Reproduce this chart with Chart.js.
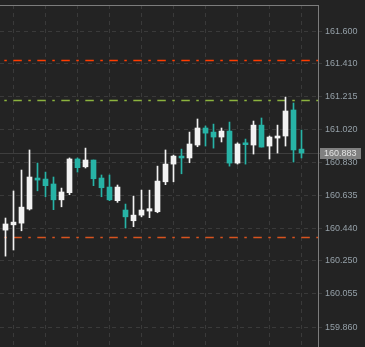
<!DOCTYPE html>
<html><head><meta charset="utf-8">
<script src="https://cdn.jsdelivr.net/npm/chart.js@4"></script>
<style>html,body{margin:0;padding:0;background:#232323;overflow:hidden}</style>
</head><body>
<canvas id="c" width="365" height="347" style="display:block;width:365px;height:347px"></canvas>
<script>
const opens  = [160.430,160.461,160.471,160.554,160.736,160.730,160.701,160.608,160.650,160.848,160.802,160.842,160.736,160.683,160.603,160.548,160.485,160.518,160.542,160.538,160.714,160.818,160.865,160.854,160.930,161.030,161.006,160.977,161.012,160.824,160.943,160.930,161.047,160.924,160.971,160.983,161.136,160.906];
const highs  = [160.501,160.660,160.783,160.901,160.824,160.771,160.742,160.677,160.854,160.854,160.912,160.842,160.754,160.754,160.695,160.583,160.630,160.665,160.665,160.806,160.901,160.871,160.906,161.006,161.083,161.042,161.053,161.030,161.065,160.943,160.965,161.071,161.089,160.983,161.047,161.212,161.177,161.018];
const lows   = [160.277,160.313,160.426,160.548,160.661,160.626,160.550,160.567,160.638,160.771,160.795,160.691,160.626,160.603,160.593,160.442,160.450,160.508,160.503,160.532,160.697,160.714,160.761,160.826,160.920,160.924,160.912,160.948,160.806,160.818,160.818,160.877,160.918,160.848,160.883,160.924,160.830,160.854];
const closes = [160.466,160.477,160.565,160.742,160.724,160.691,160.608,160.654,160.848,160.797,160.842,160.732,160.679,160.608,160.683,160.508,160.518,160.548,160.556,160.718,160.818,160.865,160.854,160.936,161.030,161.000,160.977,161.012,160.824,160.936,160.932,161.047,160.918,160.977,160.983,161.130,160.901,160.883];
const tickLabels = ['161.600','161.410','161.215','161.020','160.830','160.635','160.440','160.250','160.055','159.860'];
const levelValues = [161.428, 161.193, 160.387];
const levelColors = ['#ff3c00', '#8cb33e', '#d8531f'];
const gridCandles = [3,7,11,15,19,23,27,31,35,39];

const UP = '#f2f2f2', DOWN = '#27b3a6';
const colors = closes.map((c,i)=> c >= opens[i] ? UP : DOWN);
const bodies = closes.map((c,i)=>({x:i, y:[opens[i], c]}));
const wicks  = closes.map((c,i)=>({x:i, y:[lows[i], highs[i]]}));

const overlay = {
  id:'overlay',
  beforeDatasetsDraw(chart){
    const ctx = chart.ctx, a = chart.chartArea, ys = chart.scales.y;
    ctx.save();
    const py = Math.round(ys.getPixelForValue(closes[closes.length-1])) + 0.5;
    ctx.strokeStyle = '#3e3e3e'; ctx.lineWidth = 1;
    ctx.beginPath(); ctx.moveTo(a.left, py); ctx.lineTo(a.right + 2, py); ctx.stroke();
    levelValues.forEach((v,k)=>{
      const y = Math.round(ys.getPixelForValue(v)) + 0.5;
      ctx.strokeStyle = levelColors[k]; ctx.lineWidth = 1.4;
      ctx.setLineDash([8.5,6.5,2.5,6.5]); ctx.lineDashOffset = 10.7;
      ctx.beginPath(); ctx.moveTo(a.left, y); ctx.lineTo(a.right, y); ctx.stroke();
    });
    ctx.restore();
  },
  afterDraw(chart){
    const ctx = chart.ctx, a = chart.chartArea, ys = chart.scales.y;
    ctx.save();
    ctx.strokeStyle = '#7c7c7c'; ctx.lineWidth = 1;
    ctx.beginPath();
    ctx.moveTo(a.left, a.top + 0.5); ctx.lineTo(a.right + 0.5, a.top + 0.5);
    ctx.moveTo(a.right + 0.5, a.top); ctx.lineTo(a.right + 0.5, chart.height);
    ctx.stroke();
    const last = closes[closes.length-1];
    const py = Math.round(ys.getPixelForValue(last));
    ctx.fillStyle = '#808080';
    ctx.fillRect(a.right + 2, py - 5, 41, 11);
    ctx.fillStyle = '#e2e2e2';
    ctx.font = '9px "Liberation Sans", Arial, sans-serif';
    ctx.textAlign = 'left'; ctx.textBaseline = 'middle';
    ctx.fillText(last.toFixed(3), a.right + 6, py + 0.5);
    ctx.restore();
  }
};

new Chart(document.getElementById('c'), {
  type:'bar',
  data:{ datasets:[
    { data: bodies, backgroundColor: colors, barThickness: 5, grouped:false, borderWidth:0, minBarLength:1 },
    { data: wicks,  backgroundColor: colors, barThickness: 1, grouped:false, borderWidth:0 }
  ]},
  options:{
    responsive:false, animation:false, devicePixelRatio:1,
    layout:{ padding:{top:5,left:0,right:0,bottom:0}, autoPadding:false },
    plugins:{ legend:{display:false}, tooltip:{enabled:false} },
    scales:{
      x:{ type:'linear', min:-0.6875, max:39.0625, offset:false,
          afterBuildTicks: s => { s.ticks = gridCandles.map(v=>({value:v})); },
          afterFit: s => { s.height = 0; },
          ticks:{display:false},
          grid:{color:'#3a3a3a', drawTicks:false, lineWidth:1},
          border:{display:false, dash:[4,4]} },
      y:{ position:'right', min:159.743, max:161.753,
          afterBuildTicks: s => { s.ticks = tickLabels.map(t=>({value:parseFloat(t)})); },
          afterFit: s => { s.width = 47; s.paddingTop = 0; s.paddingBottom = 0; },
          ticks:{ callback:(v,i)=>tickLabels[i], color:'#95a0a8', padding:3, autoSkip:false, maxRotation:0,
                  font:{family:'"Liberation Sans", Arial, sans-serif', size:9, lineHeight:0.1} },
          grid:{color:'#3a3a3a', tickLength:4, drawTicks:true, lineWidth:1},
          border:{display:false, dash:[4,4]} }
    }
  },
  plugins:[overlay]
});
</script>
</body></html>
